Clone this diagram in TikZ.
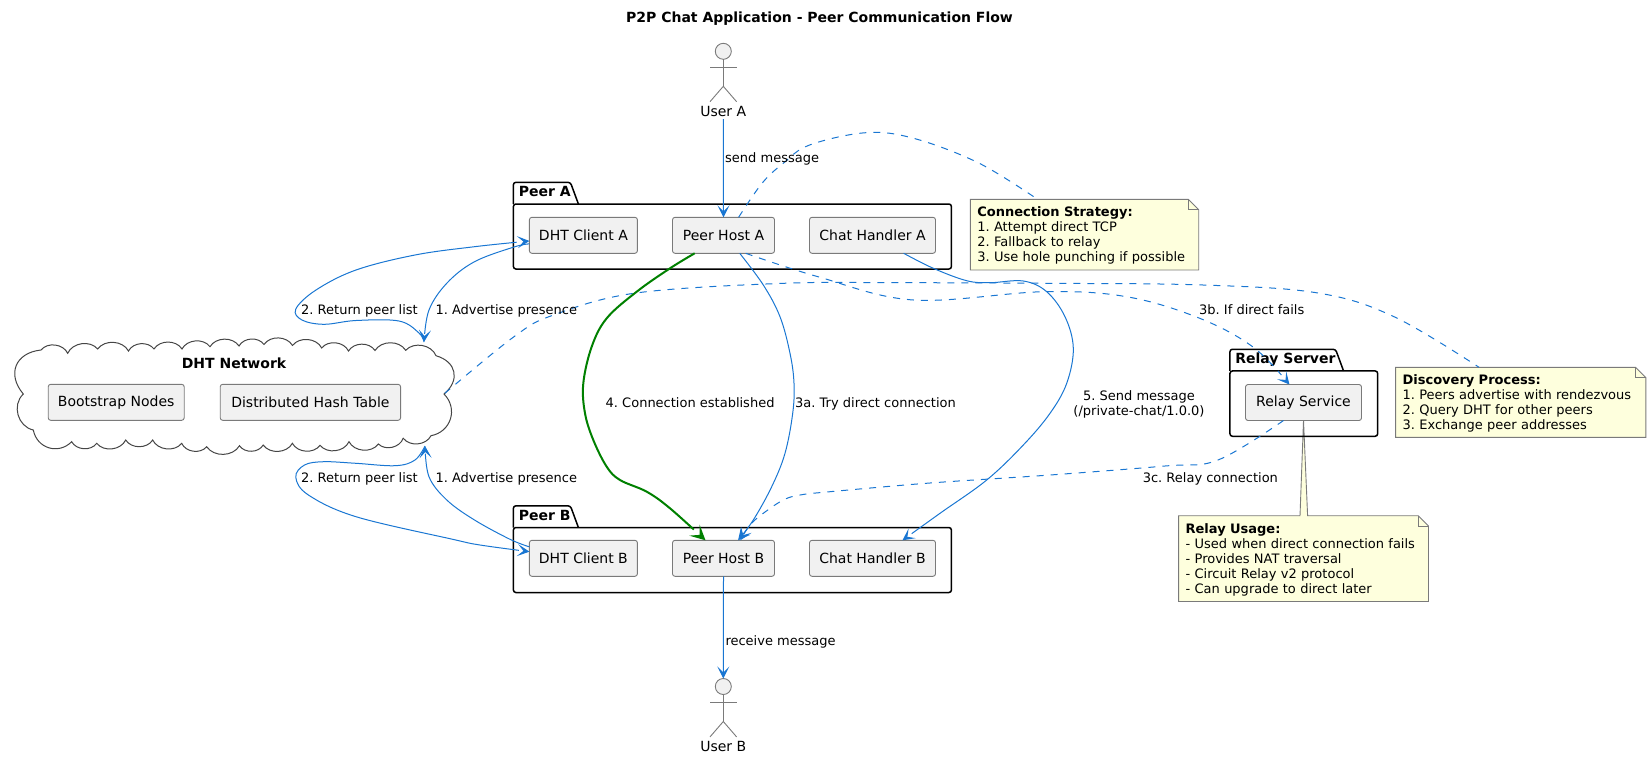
\documentclass[tikz,border=0pt]{standalone}
\usepackage{fontspec}
\setmainfont{DejaVu Sans}
\usetikzlibrary{arrows.meta,bending,backgrounds,calc}

\definecolor{flowblue}{HTML}{1976D2}
\definecolor{flowgreen}{HTML}{008000}
\definecolor{boxfill}{HTML}{F1F1F1}
\definecolor{boxline}{HTML}{7A7A7A}
\definecolor{cloudline}{HTML}{454545}
\definecolor{notefill}{HTML}{FEFFDD}

\tikzset{
  compbox/.style={draw=boxline,fill=boxfill,line width=0.9pt,rounded corners=2.5,minimum height=36,inner sep=0,outer sep=0,font=\fontsize{14}{16}\selectfont},
  pkgbox/.style={draw=black,line width=1.5pt,rounded corners=2.5,inner sep=0,outer sep=0},
  pkgname/.style={anchor=west,inner sep=0,text height=11,text depth=3,font=\fontsize{14}{16}\selectfont\bfseries},
  notebox/.style={anchor=north west,inner xsep=7,inner ysep=0,outer sep=0,align=left,font=\fontsize{13}{15}\selectfont,execute at begin node=\rule{0pt}{12pt}},
  noteline/.style={draw=boxline,fill=notefill,line width=0.9pt},
  flowline/.style={draw=flowblue,line width=1pt},
  flowdash/.style={flowline,dash pattern=on 7pt off 7pt},
  flowtext/.style={anchor=west,inner sep=0,text height=11.5,text depth=1.5,font=\fontsize{13}{15}\selectfont},
  actorhead/.style={circle,draw=boxline,fill=boxfill,line width=0.9pt,minimum size=16,inner sep=0,outer sep=0},
  actorname/.style={inner sep=0,minimum height=16,font=\fontsize{14}{16}\selectfont},
  actorline/.style={draw=boxline,line width=0.9pt},
  >={Stealth[length=12pt,width=12pt,inset=6pt]}
}

\newcommand{\pkgtab}[3]{
  \draw[draw=black,line width=1.5pt,rounded corners=2.5] (#1.north west) -- ++(0,-21.7) -- ++(#2-8,0) -- ++(8,21.7);
  \node[pkgname] (#1name) at ($(#1.north west)+(5.2,-11.2)$) {#3};
}
\newcommand{\actorbody}[1]{
  \draw[actorline] (#1.south) -- ++(0,27);
  \draw[actorline] ($(#1.south)+(-13.3,8)$) -- ++(26.6,0);
  \draw[actorline] ($(#1.south)+(-13.3,42.4)$) -- ++(13.3,-15.4) -- ++(13.3,15.4);
}
\newcommand{\notefold}[2]{
  \begin{scope}[on background layer]
    \draw[noteline] (#1.north west) #2 -- ($(#1.north east)+(-10.4,0)$) -- ($(#1.north east)+(0,10.4)$) -- (#1.south east) -- (#1.south west) -- cycle;
    \draw[noteline,fill=none] ($(#1.north east)+(-10.4,0)$) -- ($(#1.north east)+(-10.4,10.4)$) -- ($(#1.north east)+(0,10.4)$);
  \end{scope}
}

\begin{document}
\frenchspacing
\begin{tikzpicture}[x=1pt,y=-1pt]
  \useasboundingbox (0,0) rectangle (1651,758);
  \node[inner sep=0,font=\fontsize{14}{16}\selectfont\bfseries] (title) at (819.5,18.5) {P2P Chat Application - Peer Communication Flow};

  % actors
  \node[actorhead] (userAhead) at (723.3,51.3) {};
  \actorbody{userAhead}
  \node[actorname] (userAname) at (723.3,111) {User A};
  \node[actorhead] (userBhead) at (723.3,686.5) {};
  \actorbody{userBhead}
  \node[actorname] (userBname) at (723.3,746.6) {User B};

  % packages
  \node[pkgbox,minimum width=438,minimum height=65] (pkgA) at (732.4,236.5) {};
  \pkgtab{pkgA}{65}{Peer A}
  \node[pkgbox,minimum width=438,minimum height=65] (pkgB) at (732.4,560) {};
  \pkgtab{pkgB}{65}{Peer B}
  \node[pkgbox,minimum width=147.7,minimum height=65.3] (pkgR) at (1303.8,403.6) {};
  \pkgtab{pkgR}{113.6}{Relay Server}

  % components
  \node[compbox,minimum width=108] (dhtA) at (583.4,235.3) {DHT Client A};
  \node[compbox,minimum width=102] (hostA) at (723.5,235.3) {Peer Host A};
  \node[compbox,minimum width=126] (chatA) at (872.5,235.3) {Chat Handler A};
  \node[compbox,minimum width=108] (dhtB) at (583.4,558.3) {DHT Client B};
  \node[compbox,minimum width=102] (hostB) at (723.5,558.3) {Peer Host B};
  \node[compbox,minimum width=126] (chatB) at (872.5,558.3) {Chat Handler B};
  \node[compbox,minimum width=116] (relaySvc) at (1303.5,402.5) {Relay Service};

  % cloud
  \draw[draw=cloudline,line width=1pt] (41,350)
    \foreach \cx/\cy in {67.7/353.3,97.7/349,128.5/351,154/349,182/349,210/346.7,239/346,264/344.5,292.5/345.5,321.7/348,348.5/351,375/350.5,405.7/350.3,436/355.7} {to[bend left=58] (\cx,\cy)}
    to[bend left=62,looseness=1.4] (444,394) to[bend left=62,looseness=1.2] (431,435.7)
    \foreach \cx/\cy in {403.2/438.2,378.4/444,349/441.7,320/445.3,292.4/443.3,263.2/445,239.5/445.7,206.7/446.7,181.7/443.3,152.7/440,125.7/440,96.7/443.3,71.7/441.7} {to[bend left=58] (\cx,\cy)}
    to[bend left=62,looseness=1.2] (33.3,430) to[bend left=62,looseness=1.1] (23.3,394) to[bend left=62,looseness=1.4] (41,350);
  \node[inner sep=0,font=\fontsize{14}{16}\selectfont\bfseries] (dhtNetName) at (234,363) {DHT Network};
  \node[compbox,minimum width=136] (bootNodes) at (116.2,402.3) {Bootstrap Nodes};
  \node[compbox,minimum width=180.4] (hashTable) at (310.4,402.3) {Distributed Hash Table};
  \coordinate (dhtNetTop) at (424,342);
  \coordinate (dhtNetBot) at (425,446);
  \coordinate (dhtNetSide) at (444.8,393.3);

  % notes
  \node[notebox,text width=214.4,minimum height=70.7] (noteConn) at (970.3,199.3) {\textbf{Connection Strategy:}\\1. Attempt direct TCP\\2. Fallback to relay\\3. Use hole punching if possible};
  \notefold{noteConn}{}
  \node[notebox,text width=236.3,minimum height=70] (noteDisc) at (1395.6,367.3) {\textbf{Discovery Process:}\\1. Peers advertise with rendezvous\\2. Query DHT for other peers\\3. Exchange peer addresses};
  \notefold{noteDisc}{}
  \node[notebox,text width=235.9,minimum height=85.8] (noteRelay) at (1178.6,515.7) {\textbf{Relay Usage:}\\- Used when direct connection fails\\- Provides NAT traversal\\- Circuit Relay v2 protocol\\- Can upgrade to direct later};
  \notefold{noteRelay}{-- ($(noteRelay.north west)+(121.4,0)$) -- (relaySvc.south) -- ($(noteRelay.north west)+(129,0)$)}

  % note links
  \draw[flowdash] plot[smooth,tension=0.6] coordinates {(hostA.50) (762,183.3) (783.6,163) (809.6,145) (866,132.7) (913.6,138.3) (978.7,163) (noteConn.143.3)};
  \draw[flowdash] plot[smooth,tension=0.6] coordinates {(dhtNetSide) (514,336.7) (553.6,315) (636,293) (783.6,283.3) (900,282.7) (1050,283.3) (1203,285) (1318,293) (1394,316.7) (noteDisc.140.3)};

  % flows
  \draw[flowline,->] (userAname.south) -- (hostA.north);
  \draw[flowline,->] (hostB.south) -- (userBhead.north);
  \draw[flowline,->] plot[smooth,tension=0.6] coordinates {(dhtA.189) (514,247) (474.5,261.7) (447,283) (429,310) (dhtNetTop)};
  \draw[flowline,->] plot[smooth,tension=0.6] coordinates {(dhtNetTop) (419,333) (399,321) (356,320.5) (324,324.3) (302,320) (295.8,309) (316,290) (356,270) (415,255) (474.5,246.7) (dhtA.186)};
  \draw[flowline,->] plot[smooth,tension=0.6] coordinates {(dhtB.168) (510,539.3) (474.5,520) (446.8,500) (429,476.7) (dhtNetBot)};
  \draw[flowline,->] plot[smooth,tension=0.6] coordinates {(dhtNetBot) (415,460) (395.4,465.7) (356,463.3) (324,461.7) (304.5,465) (295.8,477.3) (308.4,495) (356,516.7) (452.7,539.3) (480,545) (dhtB.173)};
  \draw[flowline,->] plot[smooth,tension=0.6] coordinates {(hostA.-48.5) (763.3,285) (780,316.7) (790,353.3) (794,383.3) (792.7,413.3) (785,453.3) (771.7,486.7) (753.3,520) (hostB.51)};
  \draw[flowdash,->] plot[smooth,tension=0.6] coordinates {(hostA.-39.4) (818,276.7) (913.6,300) (1043.7,291.7) (1126.5,296.7) (1199,318) (1253,347) (relaySvc.128.5)};
  \draw[flowdash,->] plot[smooth,tension=0.6] coordinates {(relaySvc.222) (1218,460) (1165,466) (1050,475) (930,483) (830,491.7) (800,495) (783.3,500) (763.3,513.3) (750,525) (hostB.47)};
  \draw[flowline,->] plot[smooth,tension=0.6] coordinates {(chatA.-30.7) (933.3,268.3) (966.7,280.7) (990,282.7) (1023.3,281) (1046.7,291.7) (1065,316.7) (1073.3,348.3) (1066.7,383.3) (1050,413.3) (1023.3,445) (986.7,480) (940,513.3) (chatB.31)};
  \draw[draw=flowgreen,line width=2pt,-{Stealth[length=15pt,width=15pt,inset=7pt]}] plot[smooth,tension=0.6] coordinates {(hostA.212.3) (670,268.3) (636.7,291.7) (606.7,318.3) (591.7,346.7) (583.3,383.3) (585,413.3) (593.3,440) (606.7,466.7) (620,480) (646.7,491.7) (670,508.3) (hostB.135)};

  % flow labels
  \node[flowtext] (sendLabel) at (725,157) {send message};
  \node[flowtext] (recvLabel) at (725.3,640.7) {receive message};
  \node[flowtext] (listALabel) at (301,309.3) {2. Return peer list};
  \node[flowtext] (advALabel) at (435.3,309.3) {1. Advertise presence};
  \node[flowtext] (listBLabel) at (301,477.3) {2. Return peer list};
  \node[flowtext] (advBLabel) at (435.3,477.3) {1. Advertise presence};
  \node[flowtext] (estLabel) at (605.5,402) {4. Connection established};
  \node[flowtext] (directLabel) at (795,402) {3a. Try direct connection};
  \node[flowtext] (failsLabel) at (1199,309) {3b. If direct fails};
  \node[flowtext] (relayLabel) at (1142.6,477.3) {3c. Relay connection};
  \node[inner sep=0,align=center,font=\fontsize{13}{15}\selectfont] (chatLabel) at (1139,404) {5. Send message\\(/private-chat/1.0.0)};
\end{tikzpicture}
\end{document}
